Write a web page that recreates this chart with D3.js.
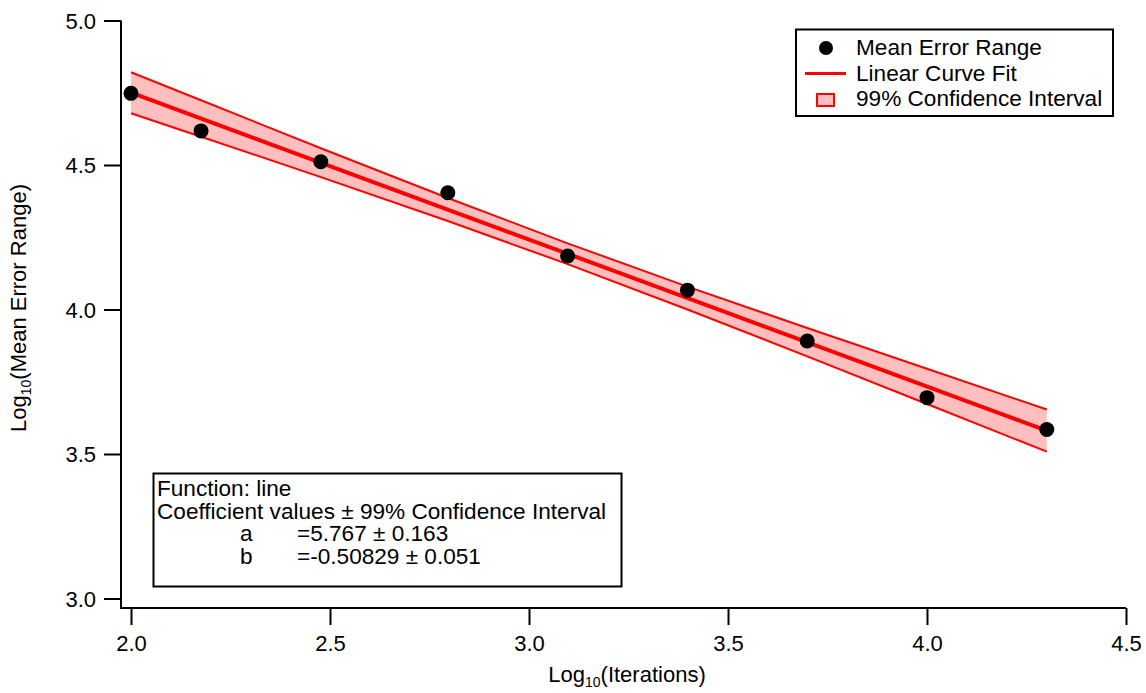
<!DOCTYPE html>
<html>
<head>
<meta charset="utf-8">
<script src="https://cdn.jsdelivr.net/npm/d3@7"></script>
<style>
  html, body { margin: 0; padding: 0; background: #fff; }
  svg { display: block; font-family: "Liberation Sans", Arial, sans-serif; }
</style>
</head>
<body>
<svg id="chart" width="1146" height="693"></svg>
<script>
// log10 of iteration counts
const logIterations = [2.000, 2.176, 2.477, 2.796, 3.097, 3.398, 3.699, 4.000, 4.301];
// log10 of the mean error range at each iteration count
const logMeanError = [4.748, 4.618, 4.511, 4.404, 4.185, 4.067, 3.891, 3.695, 3.585];
// 99% confidence band of the fitted line, evaluated at each x
const bandUpper = [4.821, 4.724, 4.558, 4.386, 4.229, 4.079, 3.936, 3.795, 3.654];
const bandLower = [4.679, 4.598, 4.458, 4.306, 4.157, 4.000, 3.838, 3.673, 3.508];
// fitted coefficients: y = a + b x
const fitA = 5.767, fitAErr = 0.163;
const fitB = -0.50829, fitBErr = 0.051;

const xTicks = [2.0, 2.5, 3.0, 3.5, 4.0, 4.5];
const yTicks = [3.0, 3.5, 4.0, 4.5, 5.0];

const legendLabels = ["Mean Error Range", "Linear Curve Fit", "99% Confidence Interval"];
const fitTextLines = ["Function: line", "Coefficient values \u00B1 99% Confidence Interval"];

const RED = "#ff0000";
const PINK = "#ffbfbf";
const FS = 22;      // tick and axis-title size
const FS_BOX = 22.6; // legend and annotation text size

const svg = d3.select("#chart");

const x = d3.scaleLinear().domain([2.0, 4.5]).range([131, 1126]);
const y = d3.scaleLinear().domain([3.0, 5.0]).range([598.5, 20.5]);

const axisX0 = 121, axisY0 = 608;

// confidence band
const band = logIterations.map((v, i) => ({x: v, lo: bandLower[i], hi: bandUpper[i]}));
svg.append("path")
  .datum(band)
  .attr("fill", PINK)
  .attr("d", d3.area().x(d => x(d.x)).y0(d => y(d.lo)).y1(d => y(d.hi)));
svg.append("path")
  .datum(band)
  .attr("fill", "none").attr("stroke", RED).attr("stroke-width", 2)
  .attr("d", d3.line().x(d => x(d.x)).y(d => y(d.hi)));
svg.append("path")
  .datum(band)
  .attr("fill", "none").attr("stroke", RED).attr("stroke-width", 2)
  .attr("d", d3.line().x(d => x(d.x)).y(d => y(d.lo)));

// fitted line
const xEnds = d3.extent(logIterations);
svg.append("path")
  .datum(xEnds.map(v => ({x: v, y: fitA + fitB * v})))
  .attr("fill", "none").attr("stroke", RED).attr("stroke-width", 4)
  .attr("d", d3.line().x(d => x(d.x)).y(d => y(d.y)));

// data points
svg.append("g").selectAll("circle")
  .data(logIterations.map((v, i) => ({x: v, y: logMeanError[i]})))
  .join("circle")
  .attr("cx", d => x(d.x)).attr("cy", d => y(d.y))
  .attr("r", 7.5).attr("fill", "#000");

// axes
const fmt = d3.format(".1f");
const gx = svg.append("g").attr("transform", `translate(0,${axisY0})`)
  .call(d3.axisBottom(x).tickValues(xTicks).tickFormat(fmt).tickSize(17).tickPadding(10));
const gy = svg.append("g").attr("transform", `translate(${axisX0},0)`)
  .call(d3.axisLeft(y).tickValues(yTicks).tickFormat(fmt).tickSize(17).tickPadding(8));
[gx, gy].forEach(g => {
  g.select(".domain").remove();
  g.selectAll(".tick line").attr("stroke", "#000").attr("stroke-width", 2);
  g.selectAll(".tick text").attr("fill", "#000").attr("font-size", FS)
    .attr("font-family", "Liberation Sans, Arial, sans-serif");
});
gy.selectAll(".tick text").attr("dy", "0.36em");
gx.selectAll(".tick text").attr("dy", "0.71em");

svg.append("path")
  .attr("d", `M${axisX0},${y(5.0)}V${axisY0}H${x(4.5)}`)
  .attr("fill", "none").attr("stroke", "#000").attr("stroke-width", 2);

// axis titles
const xt = svg.append("text")
  .attr("x", 627).attr("y", 682)
  .attr("text-anchor", "middle").attr("font-size", FS).attr("fill", "#000");
xt.append("tspan").text("Log");
xt.append("tspan").attr("font-size", 14).attr("dy", 5).text("10");
xt.append("tspan").attr("dy", -5).text("(Iterations)");

const yt = svg.append("text")
  .attr("transform", "translate(26,308) rotate(-90)")
  .attr("text-anchor", "middle").attr("font-size", FS).attr("fill", "#000");
yt.append("tspan").text("Log");
yt.append("tspan").attr("font-size", 14).attr("dy", 5).text("10");
yt.append("tspan").attr("dy", -5).text("(Mean Error Range)");

// legend
const lg = svg.append("g");
lg.append("rect").attr("x", 796).attr("y", 29.5).attr("width", 317).attr("height", 86.5)
  .attr("fill", "#fff").attr("stroke", "#000").attr("stroke-width", 2);
lg.append("circle").attr("cx", 826).attr("cy", 48).attr("r", 7).attr("fill", "#000");
lg.append("line").attr("x1", 805).attr("x2", 846).attr("y1", 73.5).attr("y2", 73.5)
  .attr("stroke", RED).attr("stroke-width", 3);
lg.append("rect").attr("x", 817).attr("y", 94).attr("width", 17).attr("height", 12)
  .attr("fill", PINK).attr("stroke", RED).attr("stroke-width", 2);
lg.selectAll("text.lbl").data(legendLabels).join("text").attr("class", "lbl")
  .attr("x", 856).attr("y", (d, i) => 55 + i * 25.5)
  .attr("font-size", FS_BOX).attr("fill", "#000").text(d => d);

// fit results box: one text block, one line per row
const fb = svg.append("g");
fb.append("rect").attr("x", 153.5).attr("y", 473.5).attr("width", 468).attr("height", 113)
  .attr("fill", "#fff").attr("stroke", "#000").attr("stroke-width", 2);
const coefRows = [["a", `=${fitA} \u00B1 ${fitAErr}`], ["b", `=${fitB} \u00B1 ${fitBErr}`]];
const fitText = fb.append("text").attr("font-size", FS_BOX).attr("fill", "#000");
fitTextLines.forEach((t, i) => {
  fitText.append("tspan").attr("x", 157).attr("y", 496 + i * 22.5).text(t);
});
coefRows.forEach((r, i) => {
  const yy = 541 + i * 22.5;
  fitText.append("tspan").attr("x", 240).attr("y", yy).text(r[0]);
  fitText.append("tspan").attr("x", 297).attr("y", yy).text(r[1]);
});
</script>
</body>
</html>
